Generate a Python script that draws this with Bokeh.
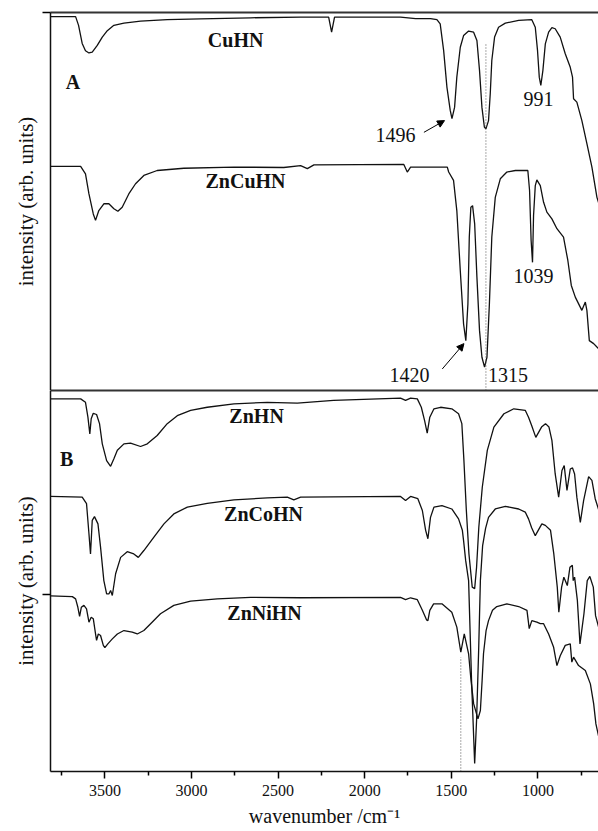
from bokeh.plotting import figure
from bokeh.layouts import column
from bokeh.models import Range1d, FixedTicker, LinearAxis, Arrow, NormalHead, Label
from bokeh.embed import file_html
from bokeh.resources import INLINE

FONT = "Liberation Serif"

# ---------------- data ----------------
# Panel A
cuhn_wn = [3814, 3669, 3652, 3631, 3612, 3592, 3573, 3544, 3515, 3486, 3448, 3390, 3294, 3140, 2948, 2659,
           2370, 2208, 2191, 2174, 1793, 1706, 1620, 1583, 1564, 1544, 1525, 1506, 1496, 1481, 1468, 1448,
           1429, 1400, 1371, 1352, 1337, 1323, 1309, 1300, 1285, 1275, 1266, 1250, 1227, 1188, 1111, 1035,
           1015, 1002, 992, 983, 971, 957, 938, 919, 900, 871, 842, 813, 800, 794, 775, 746, 717, 688, 659, 644]
cuhn_int = [98.9, 98.9, 96.6, 91.8, 89.9, 89.3, 89.5, 91.3, 93.5, 95.2, 96.6, 97.2, 97.7, 98.1, 98.3, 98.6,
            98.8, 98.8, 94.8, 98.8, 98.8, 98.4, 98.4, 98.1, 97.0, 89.9, 80.2, 74.1, 71.9, 74.9, 82.9, 90.8,
            93.9, 95.1, 94.8, 92.6, 84.7, 74.9, 69.7, 69.2, 71.4, 78.5, 87.3, 93.5, 96.1, 97.2, 97.9, 98.1,
            96.1, 89.9, 82.9, 80.7, 84.7, 91.7, 94.8, 96.0, 95.7, 93.5, 89.1, 85.5, 82.9, 77.2, 76.3, 71.4,
            65.3, 59.1, 51.1, 48.9]

zncuhn_wn = [3814, 3640, 3612, 3592, 3567, 3554, 3535, 3506, 3477, 3448, 3425, 3400, 3362, 3323, 3275, 3198,
             3044, 2755, 2467, 2370, 2331, 2293, 1774, 1754, 1735, 1523, 1515, 1487, 1468, 1448, 1429, 1416,
             1404, 1396, 1387, 1377, 1365, 1352, 1337, 1323, 1308, 1294, 1280, 1266, 1246, 1217, 1179, 1130,
             1058, 1048, 1039, 1031, 1025, 1015, 1006, 986, 967, 948, 919, 890, 852, 827, 807, 784, 746, 726,
             717, 703, 678, 659, 644]
zncuhn_int = [59.3, 59.3, 57.3, 52.0, 46.7, 45.0, 47.6, 49.4, 49.4, 48.1, 47.4, 48.5, 52.0, 54.7, 56.9, 58.2,
              58.8, 59.1, 59.0, 59.5, 58.7, 59.7, 59.8, 57.8, 59.1, 59.1, 57.8, 55.6, 47.6, 31.7, 17.6, 13.2,
              22.9, 40.6, 48.5, 48.9, 44.1, 30.0, 15.9, 8.8, 6.2, 8.8, 22.9, 40.6, 51.1, 56.0, 57.8, 58.2,
              58.2, 52.9, 39.7, 33.9, 46.3, 54.2, 55.7, 54.2, 49.8, 47.2, 45.4, 42.8, 40.6, 34.4, 27.8, 24.7,
              21.2, 23.4, 21.2, 13.2, 12.4, 11.5, 10.8]

# Panel B
znhn_wn = [3814, 3640, 3612, 3598, 3587, 3579, 3567, 3548, 3531, 3515, 3490, 3467, 3448, 3428, 3390, 3352,
           3294, 3255, 3198, 3140, 3082, 3005, 2909, 2755, 2562, 2389, 2180, 1793, 1764, 1735, 1696, 1673,
           1654, 1639, 1624, 1600, 1562, 1497, 1458, 1439, 1427, 1413, 1398, 1379, 1365, 1354, 1341, 1321,
           1292, 1254, 1196, 1139, 1073, 1054, 1036, 1012, 979, 956, 936, 919, 900, 880, 861, 848, 832, 813,
           800, 788, 775, 755, 736, 707, 688, 669, 644]
znhn_int = [97.8, 97.8, 96.9, 93.0, 88.6, 92.6, 94.0, 93.7, 91.3, 86.0, 81.6, 80.1, 82.1, 84.3, 86.0, 86.2,
            85.3, 86.0, 88.2, 91.3, 93.4, 94.8, 95.6, 96.5, 96.9, 96.7, 97.4, 98.0, 97.4, 98.0, 97.8, 95.6,
            92.1, 88.8, 93.0, 95.2, 95.6, 95.2, 93.9, 91.3, 81.6, 68.5, 57.1, 48.4, 48.0, 53.6, 64.1, 74.6,
            84.3, 90.4, 93.9, 95.2, 94.8, 93.0, 90.8, 87.7, 90.4, 91.3, 90.4, 86.9, 78.1, 72.0, 79.0, 80.3,
            73.8, 79.4, 79.7, 78.1, 72.0, 65.4, 71.1, 77.4, 76.4, 71.6, 68.0]

zncohn_wn = [3814, 3631, 3606, 3592, 3583, 3573, 3560, 3540, 3525, 3506, 3490, 3477, 3467, 3457, 3438, 3409,
             3371, 3333, 3307, 3275, 3217, 3159, 3102, 3024, 2909, 2755, 2562, 2447, 2409, 2370, 1793, 1764,
             1735, 1693, 1667, 1648, 1635, 1620, 1600, 1554, 1497, 1458, 1436, 1429, 1417, 1400, 1383, 1365,
             1354, 1342, 1332, 1319, 1302, 1285, 1246, 1188, 1111, 1073, 1054, 1036, 1015, 977, 957, 927, 908,
             888, 879, 863, 850, 830, 815, 801, 796, 788, 772, 757, 734, 715, 700, 680, 667, 644]
zncohn_int = [72.2, 72.0, 70.3, 62.4, 57.1, 65.9, 66.9, 65.0, 58.9, 50.1, 46.6, 46.6, 47.5, 46.2, 51.9, 56.2,
              57.7, 57.1, 56.2, 58.0, 61.5, 65.0, 67.6, 69.4, 70.4, 71.3, 71.8, 72.0, 71.3, 72.0, 72.2, 71.1,
              72.2, 71.6, 68.5, 63.3, 61.1, 66.7, 69.4, 69.8, 68.9, 66.3, 63.3, 60.6, 55.4, 50.1, 23.9, 2.1,
              13.4, 31.8, 50.1, 59.3, 63.8, 66.7, 68.9, 69.6, 68.9, 68.1, 66.3, 64.0, 61.9, 65.0, 64.6, 63.3,
              57.1, 48.4, 41.8, 48.4, 51.0, 48.8, 53.6, 54.1, 50.1, 51.0, 44.9, 33.5, 41.4, 50.1, 51.2, 48.4,
              40.9, 37.0]

znnihn_wn = [3814, 3688, 3669, 3656, 3646, 3636, 3621, 3606, 3592, 3579, 3567, 3554, 3548, 3538, 3525, 3509,
             3500, 3483, 3457, 3428, 3390, 3342, 3313, 3275, 3236, 3179, 3102, 3005, 2851, 2659, 2370, 1793,
             1764, 1735, 1696, 1667, 1643, 1635, 1624, 1602, 1554, 1497, 1468, 1445, 1425, 1400, 1386, 1371,
             1346, 1332, 1322, 1314, 1299, 1285, 1262, 1237, 1179, 1111, 1063, 1050, 1035, 1006, 986, 967,
             938, 909, 890, 871, 842, 813, 804, 794, 765, 726, 697, 678, 665, 644]
znnihn_int = [46.1, 45.9, 45.3, 43.1, 40.7, 43.1, 43.6, 42.7, 39.2, 40.5, 40.1, 36.1, 34.4, 36.1, 35.7, 33.1,
              32.5, 33.5, 34.8, 36.1, 37.0, 36.6, 36.1, 37.0, 38.8, 41.4, 43.6, 44.7, 45.3, 45.7, 45.6, 45.7,
              45.1, 45.6, 45.1, 42.3, 39.8, 39.6, 42.3, 44.0, 44.0, 41.8, 37.9, 31.3, 36.1, 30.9, 23.9, 17.8,
              13.8, 16.0, 23.9, 30.9, 37.0, 39.6, 42.3, 43.3, 44.0, 43.3, 42.3, 37.5, 39.6, 39.2, 38.8, 38.8,
              36.1, 32.6, 27.8, 30.4, 33.1, 33.5, 28.7, 30.0, 27.8, 26.5, 23.0, 17.8, 12.5, 8.1]

sample_names_A = ["CuHN", "ZnCuHN"]
sample_names_B = ["ZnHN", "ZnCoHN", "ZnNiHN"]
peak_labels_A = ["1496", "991", "1039", "1420", "1315"]
guide_A = 1300   # dotted guide, panel A
guide_B = 1445   # dotted guide, panel B
x_major = [3500, 3000, 2500, 2000, 1500, 1000]
x_minor = [3750, 3250, 2750, 2250, 1750, 1250, 750]

X_START, X_END = 3814, 650
LINE_COL = "#111111"


def frame_line(p, loc):
    ax = LinearAxis(ticker=FixedTicker(ticks=[]),
                    major_label_standoff=0, major_tick_out=0, major_tick_in=0,
                    minor_tick_out=0, minor_tick_in=0, axis_line_width=2,
                    axis_line_color="#333333")
    p.add_layout(ax, loc)
    return ax


def style_y(p, tick):
    ax = p.left[0]
    ax.ticker = FixedTicker(ticks=[tick])
    ax.major_label_overrides = {tick: ""}
    ax.major_label_standoff = 0
    ax.major_tick_out = 8
    ax.major_tick_in = 0
    ax.minor_tick_out = 0
    ax.minor_tick_in = 0
    ax.axis_line_width = 1.5
    ax.axis_line_color = "#111111"
    ax.major_tick_line_width = 1.5
    ax.axis_label = "intensity (arb. units)"
    ax.axis_label_text_font = FONT
    ax.axis_label_text_font_size = "21px"
    ax.axis_label_text_font_style = "normal"
    ax.axis_label_text_color = "#111111"
    ax.axis_label_standoff = 5


def add_label(p, x, y, text, size="20px", bold=False, align="center"):
    p.add_layout(Label(x=x, y=y, text=text, text_font=FONT, text_font_size=size,
                       text_font_style="bold" if bold else "normal", text_align=align,
                       text_baseline="middle", text_color="#111111"))


# ---------------- panel A ----------------
pA = figure(width=598, height=390, x_range=Range1d(X_START, X_END), y_range=Range1d(0, 100),
            output_backend="svg", toolbar_location=None, x_axis_location=None,
            min_border_left=50, min_border_right=0, min_border_top=12, min_border_bottom=0)
pA.outline_line_color = None
pA.grid.visible = False
style_y(pA, 100)
frame_line(pA, "above")
frame_line(pA, "below")

pA.line(cuhn_wn, cuhn_int, line_color=LINE_COL, line_width=1.3)
pA.line(zncuhn_wn, zncuhn_int, line_color=LINE_COL, line_width=1.3)
pA.segment(x0=[guide_A], y0=[0], x1=[guide_A], y1=[92], line_color="#555555",
           line_width=1, line_dash="1 2")

add_label(pA, 2745, 92.6, sample_names_A[0], bold=True)
add_label(pA, 2688, 55.3, sample_names_A[1], bold=True)
add_label(pA, 3684, 81.7, "A", bold=True)
add_label(pA, 1822, 67.7, peak_labels_A[0])
add_label(pA, 996, 77.2, peak_labels_A[1])
add_label(pA, 1025, 30.4, peak_labels_A[2])
add_label(pA, 1741, 4.2, peak_labels_A[3])
add_label(pA, 1172, 4.0, peak_labels_A[4])

for (xs, ys, xe, ye) in [(1658, 68.3, 1539, 71.4), (1552, 5.7, 1427, 12.4)]:
    pA.add_layout(Arrow(end=NormalHead(size=7, fill_color="black", line_color="black"),
                        x_start=xs, y_start=ys, x_end=xe, y_end=ye,
                        line_color="black", line_width=1))

# ---------------- panel B ----------------
pB = figure(width=598, height=441, x_range=pA.x_range, y_range=Range1d(0, 100),
            output_backend="svg", toolbar_location=None,
            min_border_left=50, min_border_right=0, min_border_top=0, min_border_bottom=60)
pB.outline_line_color = None
pB.grid.visible = False
style_y(pB, 46.5)

xa = pB.below[0]
xa.ticker = FixedTicker(ticks=x_major, minor_ticks=x_minor)
xa.major_tick_out = 7
xa.major_tick_in = 0
xa.minor_tick_out = 4
xa.minor_tick_in = 0
xa.axis_line_width = 1.5
xa.axis_line_color = "#111111"
xa.major_tick_line_width = 1.5
xa.minor_tick_line_width = 1.5
xa.major_label_text_font = FONT
xa.major_label_text_font_size = "16px"
xa.major_label_text_color = "#111111"
xa.major_label_standoff = 6
xa.axis_label = "wavenumber /cm\u207b\u00b9"
xa.axis_label_text_font = FONT
xa.axis_label_text_font_size = "20px"
xa.axis_label_text_font_style = "normal"
xa.axis_label_text_color = "#111111"
xa.axis_label_standoff = 6

frame_line(pB, "above")

pB.line(znhn_wn, znhn_int, line_color=LINE_COL, line_width=1.3)
pB.line(zncohn_wn, zncohn_int, line_color=LINE_COL, line_width=1.3)
pB.line(znnihn_wn, znnihn_int, line_color=LINE_COL, line_width=1.3)
pB.segment(x0=[guide_B], y0=[0], x1=[guide_B], y1=[30], line_color="#555555",
           line_width=1, line_dash="1 2")

add_label(pB, 2624, 93.2, sample_names_B[0], bold=True)
add_label(pB, 2584, 67.5, sample_names_B[1], bold=True)
add_label(pB, 2578, 41.7, sample_names_B[2], bold=True)
add_label(pB, 3721, 81.9, "B", bold=True)

layout = column(pA, pB, spacing=0)
open("out.html", "w").write(file_html(layout, INLINE))
